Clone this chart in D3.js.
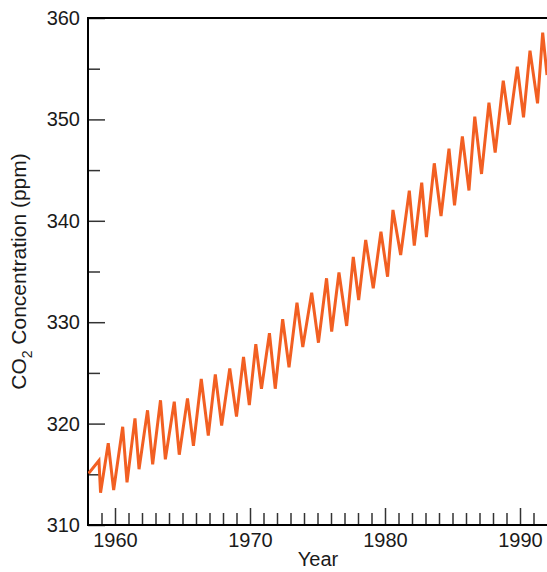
<!DOCTYPE html>
<html>
<head>
<meta charset="utf-8">
<script src="https://cdn.jsdelivr.net/npm/d3@7"></script>
<style>
  html, body { margin: 0; padding: 0; background: #fff; }
  svg { display: block; font-family: "Liberation Sans", Arial, Helvetica, sans-serif; }
</style>
</head>
<body>
<svg id="chart" width="547" height="572"></svg>
<script>
// ---- data ----
const years = [1958.04,1958.81,1958.93,1959.50,1959.90,1960.57,1960.89,1961.48,1961.78,1962.41,
  1962.79,1963.37,1963.73,1964.39,1964.76,1965.37,1965.81,1966.39,1966.91,1967.43,
  1967.90,1968.50,1969.00,1969.52,1969.95,1970.43,1970.85,1971.44,1971.87,1972.42,
  1972.89,1973.48,1973.91,1974.57,1975.07,1975.67,1976.05,1976.59,1977.16,1977.65,
  1978.05,1978.57,1979.13,1979.70,1980.19,1980.59,1981.16,1981.80,1982.17,1982.72,
  1983.07,1983.65,1984.15,1984.74,1985.15,1985.73,1986.22,1986.65,1987.15,1987.70,
  1988.16,1988.76,1989.22,1989.80,1990.26,1990.74,1991.30,1991.68,1992.00];
const co2 = [315.08,316.36,313.19,318.06,313.45,319.69,314.21,320.52,315.50,321.31,
  315.99,322.30,316.48,322.16,316.93,322.49,317.82,324.40,318.83,324.86,
  319.81,325.45,320.70,326.57,321.83,327.83,323.44,328.91,323.44,330.29,
  325.55,331.92,327.55,332.91,327.98,334.33,329.08,334.90,329.63,336.43,
  332.19,338.11,333.34,338.93,334.49,341.07,336.63,342.97,337.56,343.76,
  338.40,345.67,340.47,347.11,341.53,348.33,342.99,350.27,344.62,351.65,
  346.72,353.82,349.48,355.20,350.21,356.78,351.59,358.55,354.38];
const yMajorTicks = [310,320,330,340,350,360];
const yMinorTicks = [315,325,335,345,355];
const xMajorTicks = [1960,1970,1980,1990];
const xMinorTicks = d3.range(1959, 1992).filter(v => v % 10 !== 0);

// ---- layout ----
const svg = d3.select("#chart");
const L = 88, T = 18, R = 547, B = 525;
const x = d3.scaleLinear().domain([1958, 1992]).range([L, R]);
const y = d3.scaleLinear().domain([310, 360]).range([B, T]);
const FONT = "\"Liberation Sans\", Arial, Helvetica, sans-serif";

svg.append("defs").append("clipPath").attr("id", "plotclip")
  .append("rect").attr("x", L).attr("y", T).attr("width", R - L).attr("height", B - T);

// minor ticks
svg.append("g").attr("transform", `translate(${L},0)`)
  .call(d3.axisLeft(y).tickValues(yMinorTicks).tickSize(-12).tickFormat(""))
  .call(g => g.select(".domain").remove());
svg.append("g").attr("transform", `translate(0,${B})`)
  .call(d3.axisBottom(x).tickValues(xMinorTicks).tickSize(-12).tickFormat(""))
  .call(g => g.select(".domain").remove());

// major ticks + labels
const yAxis = svg.append("g").attr("transform", `translate(${L},0)`)
  .call(d3.axisLeft(y).tickValues(yMajorTicks).tickSize(-17).tickPadding(8).tickFormat(d3.format("d")));
yAxis.select(".domain").remove();
const xAxis = svg.append("g").attr("transform", `translate(0,${B})`)
  .call(d3.axisBottom(x).tickValues(xMajorTicks).tickSize(-17).tickPadding(8).tickFormat(d3.format("d")));
xAxis.select(".domain").remove();

svg.selectAll(".tick line").attr("stroke", "#333").attr("stroke-width", 1.5);
svg.selectAll(".tick text").attr("font-size", 20).attr("fill", "#1a1a1a")
  .attr("font-family", FONT);

// frame lines (left, bottom, top)
svg.append("path")
  .attr("d", `M${R},${T}H${L}V${B}H${R}`)
  .attr("fill", "none").attr("stroke", "#000").attr("stroke-width", 2);

// data line
const line = d3.line().x((d, i) => x(years[i])).y(d => y(d));
svg.append("path")
  .datum(co2)
  .attr("clip-path", "url(#plotclip)")
  .attr("d", line)
  .attr("fill", "none")
  .attr("stroke", "#f25f22")
  .attr("stroke-width", 3)
  .attr("stroke-linejoin", "miter");

// axis titles
svg.append("text")
  .attr("x", 318).attr("y", 566)
  .attr("text-anchor", "middle").attr("font-size", 20).attr("fill", "#1a1a1a")
  .text("Year");

const yt = svg.append("text")
  .attr("transform", `translate(26,${(T + B) / 2}) rotate(-90)`)
  .attr("text-anchor", "middle").attr("font-size", 21).attr("fill", "#1a1a1a");
yt.append("tspan").text("CO");
yt.append("tspan").attr("font-size", 14).attr("dy", 6).text("2");
yt.append("tspan").attr("dy", -6).text(" Concentration (ppm)");
</script>
</body>
</html>
